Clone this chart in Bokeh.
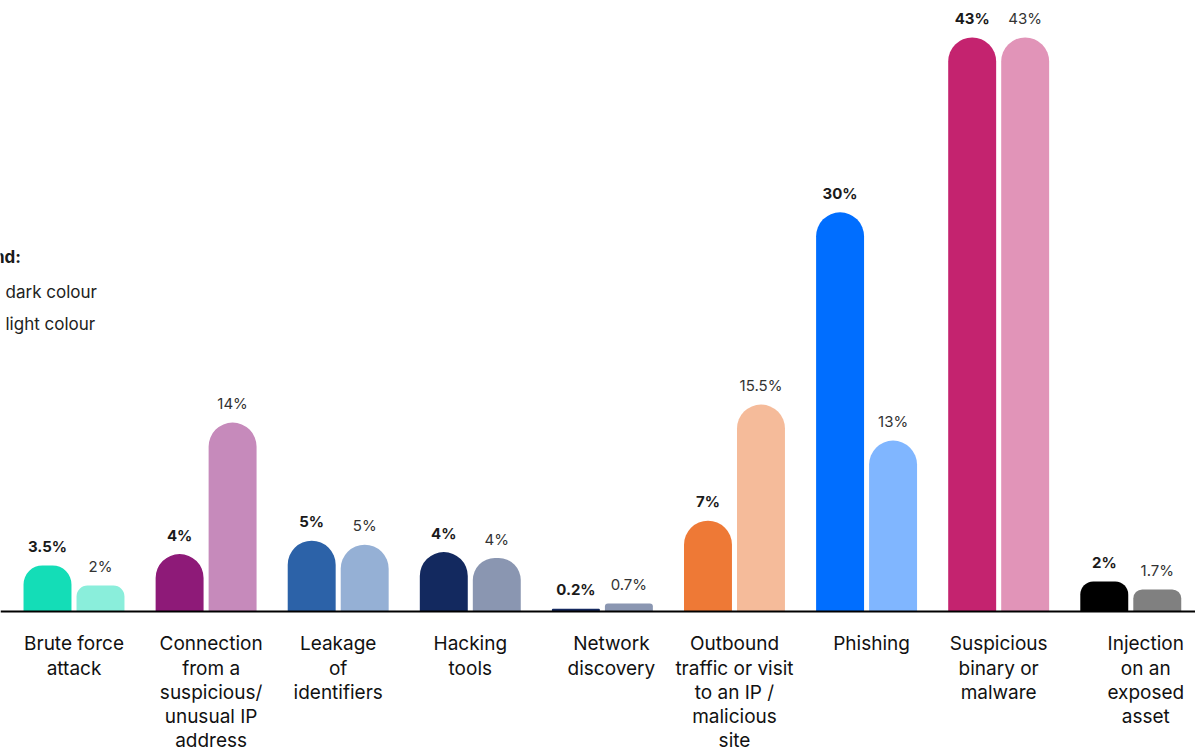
import numpy as np
from bokeh.plotting import figure
from bokeh.models import ColumnDataSource, Range1d, Span, Label
from bokeh.core.properties import value
from bokeh.embed import file_html
from bokeh.resources import INLINE

# ---------------- data ----------------
categories = [
    "Brute force\nattack",
    "Connection\nfrom a\nsuspicious/\nunusual IP\naddress",
    "Leakage\nof\nidentifiers",
    "Hacking\ntools",
    "Network\ndiscovery",
    "Outbound\ntraffic or visit\nto an IP /\nmalicious\nsite",
    "Phishing",
    "Suspicious\nbinary or\nmalware",
    "Injection\non an\nexposed\nasset",
]
dark_values = [3.45, 4.3, 5.3, 4.45, 0.2, 6.8, 29.9, 43.0, 2.25]
light_values = [1.95, 14.15, 5.0, 4.0, 0.6, 15.5, 12.8, 43.0, 1.65]
dark_labels = ["3.5%", "4%", "5%", "4%", "0.2%", "7%", "30%", "43%", "2%"]
light_labels = ["2%", "14%", "5%", "4%", "0.7%", "15.5%", "13%", "43%", "1.7%"]
dark_colors = ["#14DDB7", "#8E1A78", "#2C62A8", "#13295F", "#14295F",
               "#EE7936", "#006EFF", "#C4236F", "#000000"]
light_colors = ["#8AEEDB", "#C68ABB", "#95B0D5", "#8A96B1", "#8A96B1",
                "#F5BB9A", "#80B6FF", "#E194B8", "#808080"]

# ---------------- layout / style ----------------
FONT = "Inter"
PX_PER_UNIT = 13.35  # used only for corner-radius styling
OFFSET = 0.2006
BAR_W = 0.363
label_shift_px = [0, 5, 0, 0, 9, 0, 5, 0, 15]

idx = np.arange(len(categories))

p = figure(width=1195, height=749,
           x_range=Range1d(-0.5564, 8.490), y_range=Range1d(-10.34, 45.77),
           output_backend="svg", toolbar_location=None,
           x_axis_location=None, y_axis_location=None,
           min_border=0, outline_line_color=None)
p.xgrid.visible = False
p.ygrid.visible = False
p.background_fill_color = "white"


def radius_for(v):
    h = v * PX_PER_UNIT
    return int(max(1, min(24, round(0.42 * h))))


for series_x, vals, cols in ((idx - OFFSET, dark_values, dark_colors),
                             (idx + OFFSET, light_values, light_colors)):
    for xi, v, c in zip(series_x, vals, cols):
        r = radius_for(v)
        src = ColumnDataSource(dict(x=[xi], top=[v], color=[c]))
        p.vbar(x="x", top="top", bottom=0, width=BAR_W, color="color",
               line_color=None, source=src, border_radius=(r, r, 0, 0))

# baseline
p.add_layout(Span(location=0, dimension="width", line_color="#000000",
                  line_width=2))

# value labels
dsrc = ColumnDataSource(dict(x=idx - OFFSET, y=dark_values, t=dark_labels))
p.text(x="x", y="y", text="t", source=dsrc, text_align="center",
       text_baseline="middle", y_offset=-19, text_font=value(FONT),
       text_font_size="15px", text_font_style="bold", text_color="#1a1a1a")
lsrc = ColumnDataSource(dict(x=idx + OFFSET, y=light_values, t=light_labels))
p.text(x="x", y="y", text="t", source=lsrc, text_align="center",
       text_baseline="middle", y_offset=-19, text_font=value(FONT),
       text_font_size="15px", text_color="#333333")

# category labels
csrc = ColumnDataSource(dict(x=idx, y=[0] * len(idx), t=categories,
                             dx=label_shift_px))
p.text(x="x", y="y", text="t", source=csrc, text_align="center",
       text_baseline="top", x_offset="dx", y_offset=21, text_font=value(FONT),
       text_font_size="19px", text_color="#111111", text_line_height=1.05)

# legend (partly cut off at the left edge)
p.add_layout(Label(x=-0.402, y=26.52, text="Legend:", text_align="right",
                   text_baseline="middle", text_font=FONT,
                   text_font_size="17px", text_font_style="bold",
                   text_color="#1a1a1a"))
p.add_layout(Label(x=-0.5185, y=23.97, text="dark colour", text_align="left",
                   text_baseline="middle", text_font=FONT,
                   text_font_size="17px", text_color="#222222"))
p.add_layout(Label(x=-0.5185, y=21.57, text="light colour", text_align="left",
                   text_baseline="middle", text_font=FONT,
                   text_font_size="17px", text_color="#222222"))

open("out.html", "w").write(file_html(p, INLINE))
